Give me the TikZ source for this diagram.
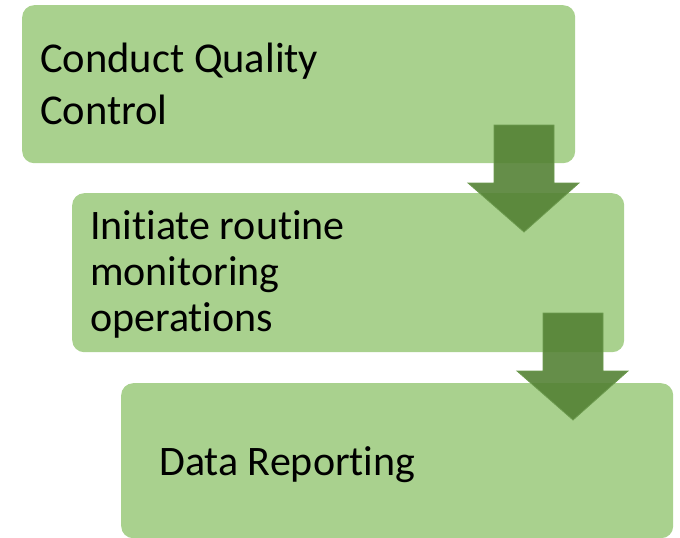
\documentclass[tikz,border=0pt]{standalone}
\usepackage{fontspec}
\setmainfont[Ligatures=NoCommon]{Carlito}
\definecolor{boxgreen}{HTML}{A9D18E}
\definecolor{arrowgreen}{HTML}{548235}
\definecolor{arrowedge}{HTML}{6C9A4E}
\begin{document}
\begin{tikzpicture}[x=1pt,y=-1pt,
  stepbox/.style={fill=boxgreen,draw=none,rounded corners=12pt,inner sep=0pt,anchor=north west},
  steptext/.style={anchor=base west,align=left,inner sep=0pt,font=\fontsize{42}{46}\selectfont},
  blockarrow/.style={fill=arrowgreen,fill opacity=0.9,draw=arrowedge,line width=0.8pt,line join=miter}]
\useasboundingbox (0,0) rectangle (680,538);
\node[stepbox,minimum width=553pt,minimum height=158pt] (b1) at (22,5) {};
\node[stepbox,minimum width=552pt,minimum height=159pt] (b2) at (72,193) {};
\node[stepbox,minimum width=552pt,minimum height=155pt] (b3) at (121,383) {};
\node[steptext,font=\fontsize{42.5}{52}\selectfont] (t1) at (40,124) {Conduct Quality\\Control};
\node[steptext,font=\fontsize{42}{46}\selectfont] (t2) at (90,331) {Initiate routine\\monitoring\\operations};
\node[steptext] (t3) at (159,475) {Data Reporting};
% block arrows
\draw[blockarrow] (494,125) -- (554,125) -- (554,183) -- (579,183) -- (524,232) -- (468,183) -- (494,183) -- cycle;
\draw[blockarrow] (543,313) -- (603,313) -- (603,371) -- (628,371) -- (573,420) -- (517,371) -- (543,371) -- cycle;
\end{tikzpicture}
\end{document}
